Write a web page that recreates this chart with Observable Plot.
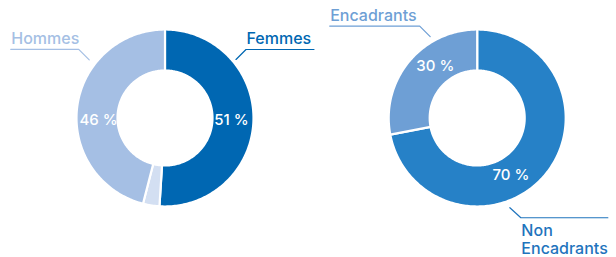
<!DOCTYPE html>
<html>
<head>
<meta charset="utf-8">
<script src="https://cdn.jsdelivr.net/npm/d3@7"></script>
<script src="https://cdn.jsdelivr.net/npm/@observablehq/plot@0.6"></script>
<style>
  html, body { margin: 0; padding: 0; background: #fff; }
  #chart { width: 616px; height: 257px; }
</style>
</head>
<body>
<div id="chart"></div>
<script>
// ---- Data ----
const genreCategories = ["Femmes", "Autres", "Hommes"];
const genreValues = [51, 3, 46];
const genreLabels = ["51 %", "", "46 %"];

const statutCategories = ["Non Encadrants", "Encadrants"];
const statutValues = [72, 28];
const statutLabels = ["70 %", "30 %"];

// ---- Styles / layout ----
const FONT = "Inter, 'Noto Sans', sans-serif";
const genreColors = ["#0067b2", "#d3dff2", "#a5bfe4"];
const statutColors = ["#2681c7", "#6e9fd5"];
const statutTextColors = ["#1f74bd", "#6e9fd5"];
const genreTextColors = ["#0067b2", null, "#a5bfe4"];

const W = 616, H = 257;
const R_OUT = 88.5, R_IN = 47.5, R_LABEL = 66.5;
const FS = 16, FS_PCT = 15;

const donuts = [
  {
    cx: 164.5, cy: 117.5,
    cats: genreCategories, values: genreValues, labels: genreLabels,
    colors: genreColors, textColors: genreTextColors,
    labelAngles: [92, null, 268],
    leaders: [
      {angle: 50.5, r: 92, dx: 10, dy: -10, len: 68, textAt: "elbow", above: true},
      null,
      {angle: 307.5, r: 95.5, dx: -10.5, dy: -10.5, len: 68, textAt: "end", above: true}
    ]
  },
  {
    cx: 476.7, cy: 117.5,
    cats: statutCategories, values: statutValues, labels: statutLabels,
    colors: statutColors, textColors: statutTextColors,
    labelAngles: [149.5, 321],
    leaders: [
      {angle: 160, r: 95.5, dx: 11, dy: 10, len: 87, textAt: "elbow", above: false},
      {angle: 330, r: 94, dx: -10.5, dy: -10.5, len: 90, textAt: "end", above: true}
    ]
  }
];

const rad = a => a * Math.PI / 180;
const px = (d, r, a) => d.cx + r * Math.sin(rad(a));
const py = (d, r, a) => d.cy - r * Math.cos(rad(a));

const slicePts = [], pctText = [], leaderPts = [], nameText = [];
donuts.forEach((d, di) => {
  const total = d3.sum(d.values);
  let acc = 0;
  d.values.forEach((v, i) => {
    const a0 = acc / total * 360, a1 = (acc + v) / total * 360;
    acc += v;
    const key = `${di}-${i}`;
    const n = Math.max(2, Math.ceil(a1 - a0));
    for (let k = 0; k <= n; k++) {
      const a = a0 + (a1 - a0) * k / n;
      slicePts.push({key, color: d.colors[i], x: px(d, R_OUT, a), y: py(d, R_OUT, a)});
    }
    for (let k = n; k >= 0; k--) {
      const a = a0 + (a1 - a0) * k / n;
      slicePts.push({key, color: d.colors[i], x: px(d, R_IN, a), y: py(d, R_IN, a)});
    }
    if (d.labels[i]) {
      const la = d.labelAngles[i] ?? (a0 + a1) / 2;
      pctText.push({text: d.labels[i], x: px(d, R_LABEL, la), y: py(d, R_LABEL, la)});
    }
    const L = d.leaders[i];
    if (L) {
      const x0 = px(d, L.r, L.angle), y0 = py(d, L.r, L.angle);
      const x1 = x0 + L.dx, y1 = y0 + L.dy;
      const dir = Math.sign(L.dx);
      const x2 = x1 + dir * L.len;
      [[x0, y0], [x1, y1], [x2, y1]].forEach(([x, y]) =>
        leaderPts.push({key, color: d.textColors[i], x, y}));
      const txtX = dir > 0 ? (L.textAt === "elbow" ? x1 : x2) : Math.min(x1, x2);
      nameText.push({
        text: L.above ? d.cats[i] : d.cats[i].replace(" ", "\n"),
        color: d.textColors[i],
        x: txtX + 0.5,
        y: L.above ? y1 - 10 + 0.29 * FS : y1 + 16.4 - 0.71 * FS,
        anchor: L.above ? "bottom" : "top"
      });
    }
  });
});

const chart = Plot.plot({
  width: W, height: H,
  margin: 0,
  x: {domain: [0, W], range: [0, W], axis: null},
  y: {domain: [0, H], range: [0, H], axis: null},
  color: {type: "identity"},
  style: {fontFamily: FONT, background: "#fff"},
  marks: [
    Plot.line(slicePts, {x: "x", y: "y", z: "key", fill: "color", stroke: "white", strokeWidth: 2.2, curve: "linear-closed"}),
    Plot.line(leaderPts, {x: "x", y: "y", z: "key", stroke: "color", strokeWidth: 1.2}),
    Plot.text(pctText, {x: "x", y: "y", text: "text", fill: "white", fontSize: FS_PCT, fontWeight: 500, lineAnchor: "middle"}),
    Plot.text(nameText.filter(d => d.anchor === "bottom"), {x: "x", y: "y", text: "text", fill: "color", fontSize: FS, fontWeight: 500, textAnchor: "start", lineAnchor: "bottom"}),
    Plot.text(nameText.filter(d => d.anchor === "top"), {x: "x", y: "y", text: "text", fill: "color", fontSize: FS, fontWeight: 500, textAnchor: "start", lineAnchor: "top", lineHeight: 1.15})
  ]
});
document.getElementById("chart").appendChild(chart);
</script>
</body>
</html>
